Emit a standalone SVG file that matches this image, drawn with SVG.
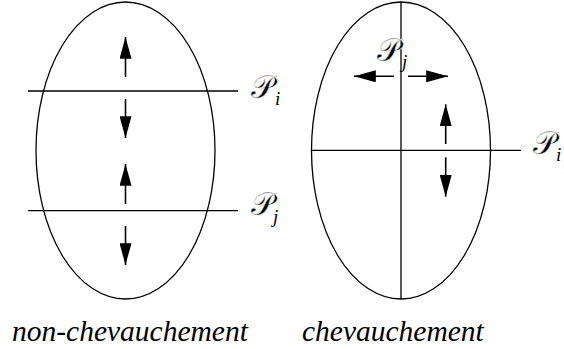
<svg xmlns="http://www.w3.org/2000/svg" width="564" height="349" viewBox="0 0 564 349">
<style>
.sh{fill:none;stroke:#000;stroke-width:1.3}
.ln{stroke:#000;stroke-width:1.3}
.ar{stroke:#000;stroke-width:1.6;fill:none;marker-end:url(#ah)}
.P{font-family:"Liberation Serif","DejaVu Serif",serif;font-size:32px;fill:#000;stroke:#fff;stroke-width:0.45px}
.sub{font-family:"Liberation Serif",serif;font-style:italic;font-size:19px;fill:#000}
.cap{font-family:"Liberation Serif",serif;font-style:italic;font-size:29.5px;fill:#000}
</style>
<defs>
<marker id="ah" markerUnits="userSpaceOnUse" markerWidth="22" markerHeight="12" refX="20" refY="5.5" orient="auto" viewBox="0 0 20 11">
<path d="M0,0 L20,5.5 L0,11 Z" fill="#000"/>
</marker>
</defs>
<g id="left-region">
<ellipse class="sh" cx="125.5" cy="150.5" rx="89.5" ry="148.5"/>
</g>
<g id="right-region">
<ellipse class="sh" cx="401" cy="150.5" rx="89.5" ry="148.5"/>
</g>
<g id="connectors">
<line class="ln" x1="28" y1="91" x2="238" y2="91"/>
<line class="ln" x1="28" y1="210.7" x2="238" y2="210.7" stroke="#555"/>
<line class="ln" x1="401" y1="2" x2="401" y2="299"/>
<line class="ln" x1="311.5" y1="150.3" x2="521" y2="150.3"/>
<line class="ar" x1="125.5" y1="77" x2="125.5" y2="37"/>
<line class="ar" x1="125.5" y1="99" x2="125.5" y2="138"/>
<line class="ar" x1="125.5" y1="204" x2="125.5" y2="164"/>
<line class="ar" x1="125.5" y1="226" x2="125.5" y2="265"/>
<line class="ar" x1="394" y1="76.3" x2="354" y2="76.3"/>
<line class="ar" x1="408" y1="76.3" x2="448" y2="76.3"/>
<line class="ar" x1="445.7" y1="144" x2="445.7" y2="104.3"/>
<line class="ar" x1="445.7" y1="157.3" x2="445.7" y2="196.7"/>
</g>
<g id="labels">
<text class="P" x="251" y="98">𝒫</text><text class="sub" x="275" y="105">i</text>
<text class="P" x="251" y="215">𝒫</text><text class="sub" x="273" y="223">j</text>
<text class="P" x="377" y="61">𝒫</text><text class="sub" x="402" y="68">j</text>
<text class="P" x="533" y="154">𝒫</text><text class="sub" x="556" y="161">i</text>
<text class="cap" x="12" y="341">non-chevauchement</text>
<text class="cap" x="302" y="341">chevauchement</text>
</g>
</svg>
